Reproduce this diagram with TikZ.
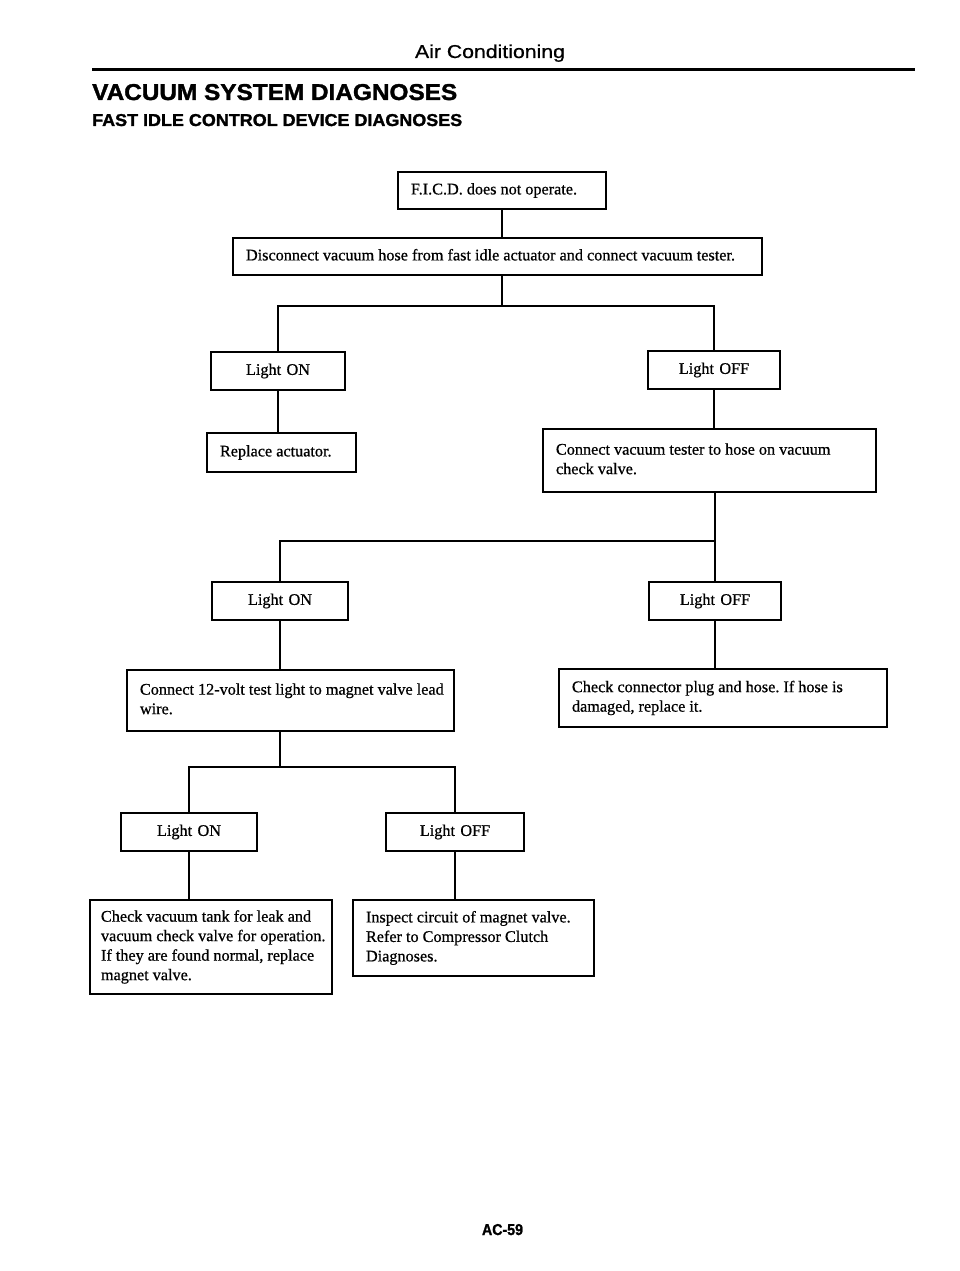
\documentclass[tikz,border=0pt]{standalone}
\usepackage{fontspec}
\usepackage{graphicx}
\setmainfont[FakeBold=0.7]{Liberation Serif}
\newfontfamily\hdsans[FakeBold=0.6]{Liberation Sans}
\newfontfamily\hdsansbf[FakeBold=1.5]{Liberation Sans Bold}
\newcommand\boxtext[2]{\makebox[#1][l]{\begin{tabular}{@{}l@{}}#2\end{tabular}}}
\frenchspacing
\begin{document}
\begin{tikzpicture}[x=1pt,y=-1pt,
  box/.style={draw, line width=1.4pt, inner xsep=13pt, inner ysep=0pt,
    font=\fontsize{16.2}{19.5}\selectfont},
  cbox/.style={box, align=center},
  conn/.style={line width=1.4pt},
  hd/.style={inner sep=0pt}]
\useasboundingbox[fill=white] (0,0) rectangle (960,1271);
% header
\node[hd, anchor=base] (hdr) at (490,58) {\resizebox{150pt}{13.5pt}{\hdsans Air Conditioning}};
\coordinate (rl) at (92,70);
\coordinate (rr) at (915,70);
\draw[line width=3pt] (rl) -- (rr);
\node[hd, anchor=base west] (title) at (92,100) {\resizebox{365pt}{16pt}{\hdsansbf VACUUM SYSTEM DIAGNOSES}};
\node[hd, anchor=base west] (sub) at (92,126) {\resizebox{370pt}{12pt}{\hdsansbf FAST IDLE CONTROL DEVICE DIAGNOSES}};
\node[hd, anchor=base] (pg) at (502.5,1235) {\resizebox{41pt}{11pt}{\hdsansbf AC-59}};
% boxes
\node[box, minimum height=37pt] (ficd) at (502,190.5) {\boxtext{182pt}{F.I.C.D. does not operate.}};
\node[box, minimum height=37pt] (disc) at (497.5,256.5) {\boxtext{503pt}{Disconnect vacuum hose from fast idle actuator and connect vacuum tester.}};
\node[cbox, text width=108pt, minimum height=38pt] (l1) at (278,371) {Light ON};
\node[cbox, text width=106pt, minimum height=38pt] (r1) at (714,370) {Light OFF};
\node[box, minimum height=39pt] (rep) at (281.5,452.5) {\boxtext{123pt}{Replace actuator.}};
\node[box, minimum height=63pt] (test) at (709.5,460.5) {\boxtext{307pt}{Connect vacuum tester to hose on vacuum\\check valve.}};
\node[cbox, text width=110pt, minimum height=38pt] (l2) at (280,601) {Light ON};
\node[cbox, text width=106pt, minimum height=38pt] (r2) at (715,601) {Light OFF};
\node[box, minimum height=61pt] (v12) at (290.5,700.5) {\boxtext{301pt}{Connect 12-volt test light to magnet valve lead\\wire.}};
\node[box, minimum height=58pt] (chk) at (723,698) {\boxtext{302pt}{Check connector plug and hose. If hose is\\damaged, replace it.}};
\node[cbox, text width=110pt, minimum height=38pt] (l3) at (189,832) {Light ON};
\node[cbox, text width=112pt, minimum height=38pt] (r3) at (455,832) {Light OFF};
\node[box, inner xsep=11pt, minimum height=94pt] (tank) at (211,947) {\boxtext{220pt}{Check vacuum tank for leak and\\vacuum check valve for operation.\\If they are found normal, replace\\magnet valve.}};
\node[box, minimum height=76pt] (insp) at (473.5,938) {\boxtext{215pt}{Inspect circuit of magnet valve.\\Refer to Compressor Clutch\\Diagnoses.}};
% branch points
\coordinate (b1) at (502,306);
\coordinate (b2) at (715,541);
\coordinate (b3) at (280,767);
% connectors
\draw[conn] (ficd.south) -- (ficd.south |- disc.north);
\draw[conn] (disc.south -| b1) -- (b1);
\draw[conn] (l1.north) |- (b1) -| (r1.north);
\draw[conn] (l1.south) -- (l1.south |- rep.north);
\draw[conn] (r1.south) -- (r1.south |- test.north);
\draw[conn] (test.south -| b2) -- (r2.north);
\draw[conn] (l2.north) |- (b2);
\draw[conn] (l2.south) -- (l2.south |- v12.north);
\draw[conn] (r2.south) -- (r2.south |- chk.north);
\draw[conn] (v12.south -| b3) -- (b3);
\draw[conn] (l3.north) |- (b3) -| (r3.north);
\draw[conn] (l3.south) -- (l3.south |- tank.north);
\draw[conn] (r3.south) -- (r3.south |- insp.north);
\end{tikzpicture}
\end{document}
